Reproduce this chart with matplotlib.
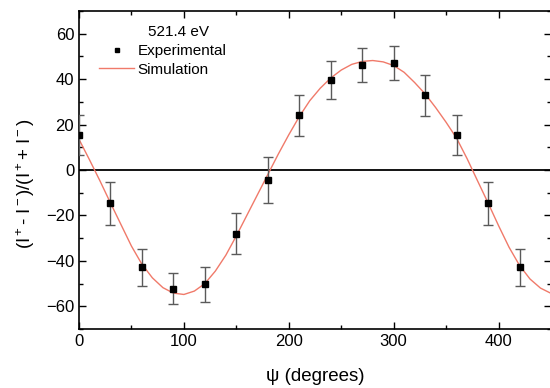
import matplotlib
matplotlib.use('Agg')
import matplotlib.pyplot as plt
from matplotlib.ticker import MultipleLocator
from matplotlib.lines import Line2D

plt.rcParams['font.family'] = ['Liberation Sans', 'DejaVu Sans']
plt.rcParams['mathtext.fontset'] = 'custom'
plt.rcParams['mathtext.rm'] = 'Liberation Sans'
plt.rcParams['mathtext.it'] = 'Liberation Sans:italic'

# measured asymmetry
psi_exp = [0, 30, 60, 90, 120, 150, 180, 210, 240, 270, 300, 330, 360, 390, 420]
asym_exp = [15.4, -14.7, -42.9, -52.2, -50.4, -28.0, -4.4, 24.0, 39.7, 46.2, 47.2, 32.8, 15.4, -14.7, -42.9]
asym_err = [9.0, 9.5, 8.0, 7.0, 7.5, 9.0, 10.0, 9.0, 8.5, 7.5, 7.5, 9.0, 9.0, 9.5, 8.0]

# simulation curve, read every 10 degrees
psi_sim = list(range(0, 460, 10))
asym_sim = [13.5, 4.5, -4.8, -14.5, -24.0, -33.5, -41.5, -47.5, -51.8, -54.2,
            -54.8, -53.3, -50.0, -44.5, -37.5, -29.0, -20.0, -11.0, -2.0, 7.0,
            15.5, 23.5, 30.5, 36.0, 40.5, 44.0, 46.5, 47.8, 48.2, 47.6,
            46.0, 43.0, 38.5, 33.5, 27.5, 21.0, 14.0, 5.0, -4.8, -14.5,
            -24.5, -34.0, -42.0, -48.0, -52.0, -54.3]

fig = plt.figure(figsize=(5.5, 3.88), dpi=100)
ax = fig.add_axes([79 / 550, 59 / 388, 472 / 550, 318 / 388])

ax.axhline(0, color='black', lw=1.3, zorder=1)
ax.plot(psi_sim, asym_sim, color='#f07a6a', lw=1.0, zorder=2)
ax.errorbar(psi_exp, asym_exp, yerr=asym_err, fmt='s', color='black', ms=4,
            ecolor='#5a5a5a', elinewidth=1.0, capsize=3.5, capthick=1.0, zorder=3)

ax.set_xlim(0, 450)
ax.set_ylim(-70, 70)
ax.xaxis.set_major_locator(MultipleLocator(100))
ax.xaxis.set_minor_locator(MultipleLocator(50))
ax.yaxis.set_major_locator(MultipleLocator(20))
ax.yaxis.set_minor_locator(MultipleLocator(10))
ax.tick_params(which='both', direction='in', top=True, right=True, labelsize=12, width=1.0)
ax.tick_params(which='major', length=5)
ax.tick_params(which='minor', length=3)
for s in ax.spines.values():
    s.set_linewidth(1.2)

ax.set_xlabel('ψ (degrees)', fontsize=13.5, labelpad=14)
ax.set_ylabel(r'(I$^+$- I$^-$)/(I$^+$+ I$^-$)', fontsize=13.5)
ax.yaxis.set_label_coords(-0.09, 0.455)

handles = [Line2D([], [], ls='none', marker='s', ms=3.5, color='black'),
           Line2D([], [], color='#f07a6a', lw=1.0)]
ax.legend(handles, ['Experimental', 'Simulation'], loc='upper left',
          bbox_to_anchor=(0.03, 0.915), frameon=False, fontsize=11,
          handlelength=2.3, handletextpad=0.2, labelspacing=0.3, borderaxespad=0.0)
ax.text(0.21, 0.935, '521.4 eV', transform=ax.transAxes, ha='center', va='center', fontsize=11)

fig.savefig('out.png', dpi=100)
